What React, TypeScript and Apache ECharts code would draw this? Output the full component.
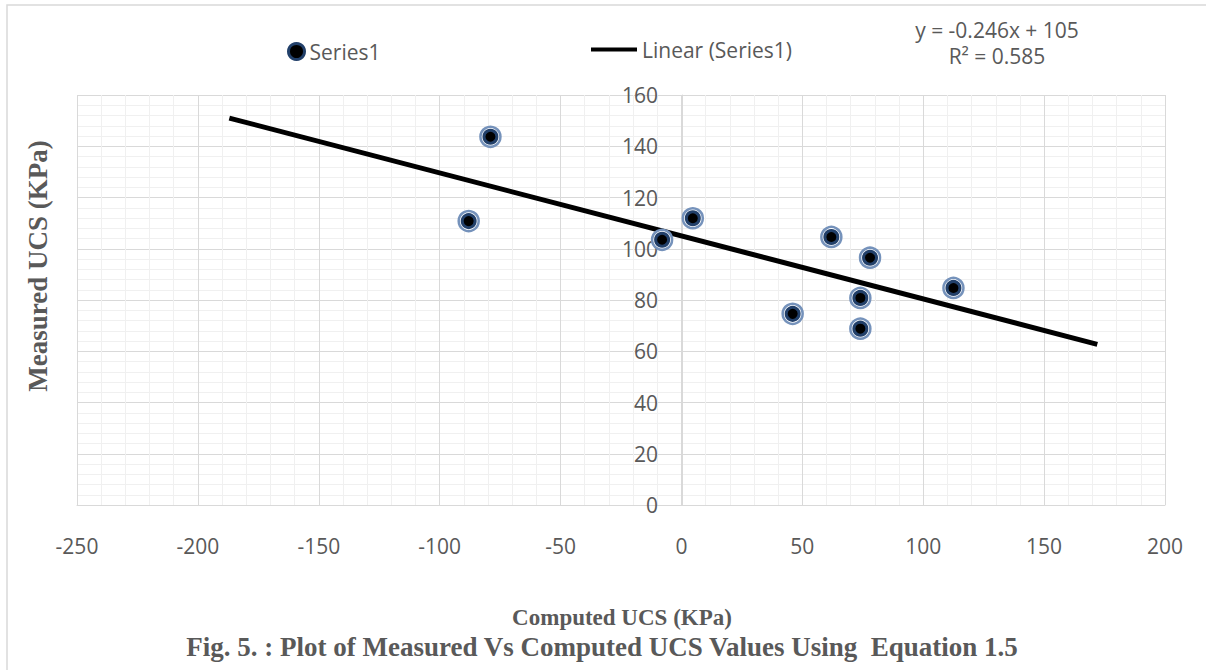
import React, { useEffect, useRef } from "react";
import * as echarts from "echarts";

// Data
const computedUCS = [-79, -88, -8, 4.7, 62, 78, 112.5, 74, 74, 46];
const measuredUCS = [143.7, 110.8, 103.5, 111.9, 104.6, 96.5, 84.7, 80.8, 68.8, 74.6];
const trendX = [-187, 172];
const trendY = [151.0, 62.7];
const equationLines = ["y = -0.246x + 105", "R² = 0.585"];
const xTitle = "Computed UCS (KPa)";
const yTitle = "Measured UCS (KPa)";
const caption = "Fig. 5. : Plot of Measured Vs Computed UCS Values Using  Equation 1.5";

const LABEL_FONT = "'Open Sans', 'Noto Sans', sans-serif";
const TITLE_FONT = "'Liberation Serif', 'DejaVu Serif', serif";
const GREY = "#595959";

export default function App() {
  const ref = useRef<HTMLDivElement>(null);
  useEffect(() => {
    if (!ref.current) return;
    const chart = echarts.init(ref.current, undefined, { renderer: "svg" });
    const points = computedUCS.map((x, i) => [x, measuredUCS[i]]);
    const trend = trendX.map((x, i) => [x, trendY[i]]);
    chart.setOption({
      animation: false,
      backgroundColor: "#ffffff",
      grid: { left: 77, right: 41, top: 95, bottom: 165, containLabel: false },
      legend: [
        {
          data: [
            {
              name: "Series1",
              icon: "circle",
              itemStyle: { color: "#000000", borderColor: "#22406a", borderWidth: 3 },
            },
          ],
          left: 282,
          top: 36,
          itemWidth: 16,
          itemHeight: 16,
          itemGap: 10,
          textStyle: { fontFamily: LABEL_FONT, fontSize: 21, color: GREY },
        },
        {
          data: [{ name: "Linear (Series1)", icon: "rect", itemStyle: { color: "#000000" } }],
          left: 586,
          top: 34,
          itemWidth: 46,
          itemHeight: 4,
          itemGap: 6,
          textStyle: { fontFamily: LABEL_FONT, fontSize: 21, color: GREY },
        },
      ],
      xAxis: {
        type: "value",
        min: -250,
        max: 200,
        interval: 50,
        axisLine: { show: true, onZero: false, lineStyle: { color: "#d9d9d9", width: 1 } },
        axisTick: { show: false },
        axisLabel: { margin: 30, fontFamily: LABEL_FONT, fontSize: 21, color: GREY },
        splitLine: { show: true, lineStyle: { color: "#d9d9d9", width: 1 } },
        minorTick: { show: false, splitNumber: 5 },
        minorSplitLine: { show: true, lineStyle: { color: "#f0f0f0", width: 1 } },
      },
      yAxis: {
        type: "value",
        min: 0,
        max: 160,
        interval: 20,
        position: "left",
        offset: -605,
        axisLine: { show: true, onZero: false, lineStyle: { color: "#d9d9d9", width: 1 } },
        axisTick: { show: false },
        axisLabel: { margin: 24, fontFamily: LABEL_FONT, fontSize: 21, color: GREY },
        splitLine: { show: true, lineStyle: { color: "#d9d9d9", width: 1 } },
        minorTick: { show: false, splitNumber: 5 },
        minorSplitLine: { show: true, lineStyle: { color: "#f0f0f0", width: 1 } },
      },
      series: [
        {
          name: "Linear (Series1)",
          type: "line",
          data: trend,
          showSymbol: false,
          symbol: "none",
          lineStyle: { color: "#000000", width: 5 },
          itemStyle: { color: "#000000" },
          z: 2,
        },
        {
          name: "outer",
          type: "scatter",
          data: points,
          symbol: "circle",
          symbolSize: 20,
          itemStyle: { color: "#ffffff", borderColor: "#7592bb", borderWidth: 2.5, opacity: 1 },
          z: 3,
        },
        {
          name: "Series1",
          type: "scatter",
          data: points,
          symbol: "circle",
          symbolSize: 13,
          itemStyle: { color: "#000000", borderColor: "#22406a", borderWidth: 3, opacity: 1 },
          z: 4,
        },
      ],
      graphic: [
        {
          type: "rect",
          shape: { x: 7, y: 5, width: 1260, height: 720 },
          style: { fill: "none", stroke: "#d9d9d9", lineWidth: 1.5 },
          silent: true,
        },
        {
          type: "text",
          x: 997,
          y: 30,
          style: {
            text: equationLines[0],
            fontFamily: LABEL_FONT,
            fontSize: 21,
            fill: GREY,
            align: "center",
            verticalAlign: "middle",
          },
        },
        {
          type: "text",
          x: 997,
          y: 56,
          style: {
            text: equationLines[1],
            fontFamily: LABEL_FONT,
            fontSize: 21,
            fill: GREY,
            align: "center",
            verticalAlign: "middle",
          },
        },
        {
          type: "text",
          x: 38,
          y: 266,
          rotation: Math.PI / 2,
          style: {
            text: yTitle,
            fontFamily: TITLE_FONT,
            fontWeight: "bold",
            fontSize: 27,
            fill: GREY,
            align: "center",
            verticalAlign: "middle",
          },
        },
        {
          type: "text",
          x: 622,
          y: 617,
          style: {
            text: xTitle,
            fontFamily: TITLE_FONT,
            fontWeight: "bold",
            fontSize: 23,
            fill: GREY,
            align: "center",
            verticalAlign: "middle",
          },
        },
        {
          type: "text",
          x: 602,
          y: 647,
          style: {
            text: caption,
            fontFamily: TITLE_FONT,
            fontWeight: "bold",
            fontSize: 27,
            fill: GREY,
            align: "center",
            verticalAlign: "middle",
          },
        },
      ],
    });
    return () => chart.dispose();
  }, []);
  return (
    <div
      ref={ref}
      style={{ position: "absolute", left: 0, top: 0, width: 1206, height: 670 }}
    />
  );
}
